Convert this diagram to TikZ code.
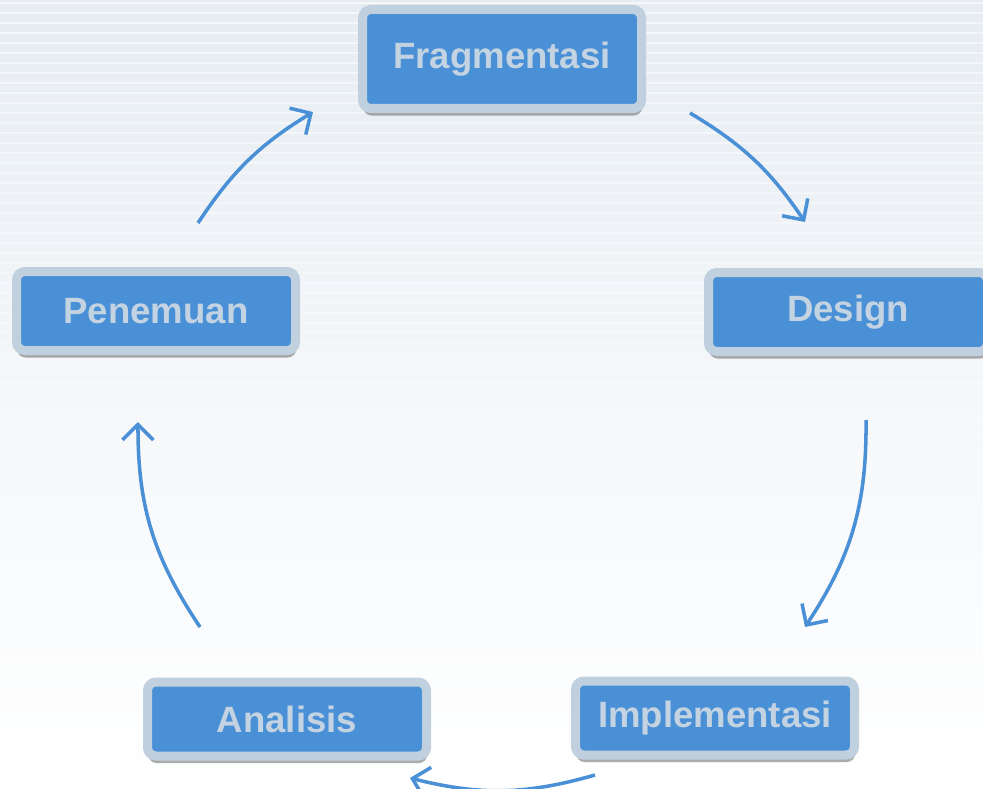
\documentclass[tikz,border=0pt]{standalone}
\usepackage{fontspec}
\setmainfont{Liberation Sans}
\usepackage{tikz}
\usetikzlibrary{arrows.meta, shadows}
\usepackage{xcolor}
\definecolor{boxblue}{HTML}{4A90D6}
\definecolor{boxrim}{HTML}{C0D0DE}
\definecolor{boxtext}{HTML}{C4D3E1}
\definecolor{bgtop}{HTML}{E6ECF2}

\begin{document}
\begin{tikzpicture}[
x=0.025cm, y=0.025cm,
box/.style={draw=boxrim, fill=boxblue, line width=6.4pt,
rounded corners=6pt,
minimum width=279*0.025cm,
minimum height=79*0.025cm,
text=boxtext, font=\fontsize{26}{30}\selectfont\bfseries,
drop shadow={shadow xshift=0.5pt, shadow yshift=-5pt, opacity=0.5, fill=black!65}},
arrow/.style={-{Straight Barb[length=11pt, width=22pt]}, line width=2.5pt, color=boxblue}
]

\useasboundingbox (0,0) rectangle (983,-788);
\shade[top color=bgtop, bottom color=white, middle color=bgtop!40] (0,0) rectangle (983,-788);
\foreach \k in {0,...,55}
  \draw[white, line width=1pt, opacity={0.6-\k/95}] (0,-\k*10-3) -- (983,-\k*10-3);

\node[box, minimum height=99*0.025cm] (frag) at (502,-59) {Fragmentasi};
\node[box] (design) at (848,-312) {Design};
\node[box, minimum height=74*0.025cm] (impl) at (715,-718) {Implementasi};
\node[box, minimum height=74*0.025cm] (analisis) at (287,-719) {Analisis};
\node[box] (penemuan) at (156,-311) {Penemuan};

\coordinate (a1s) at (690,-113);
\coordinate (a1e) at (805,-222);
\coordinate (a2s) at (866,-420);
\coordinate (a2e) at (805,-627);
\coordinate (a3s) at (595,-775);
\coordinate (a3e) at (410,-778);
\coordinate (a4s) at (200,-627);
\coordinate (a4e) at (138,-422);
\coordinate (a5s) at (198,-223);
\coordinate (a5e) at (313,-112);

\draw[arrow] (a1s) to[bend left=12.5] (a1e);
\draw[arrow] (a2s) to[bend left=17] (a2e);
\draw[arrow] (a3s) to[bend left=15] (a3e);
\draw[arrow] (a4s) to[bend left=17] (a4e);
\draw[arrow] (a5s) to[bend left=12.5] (a5e);

\end{tikzpicture}
\end{document}
